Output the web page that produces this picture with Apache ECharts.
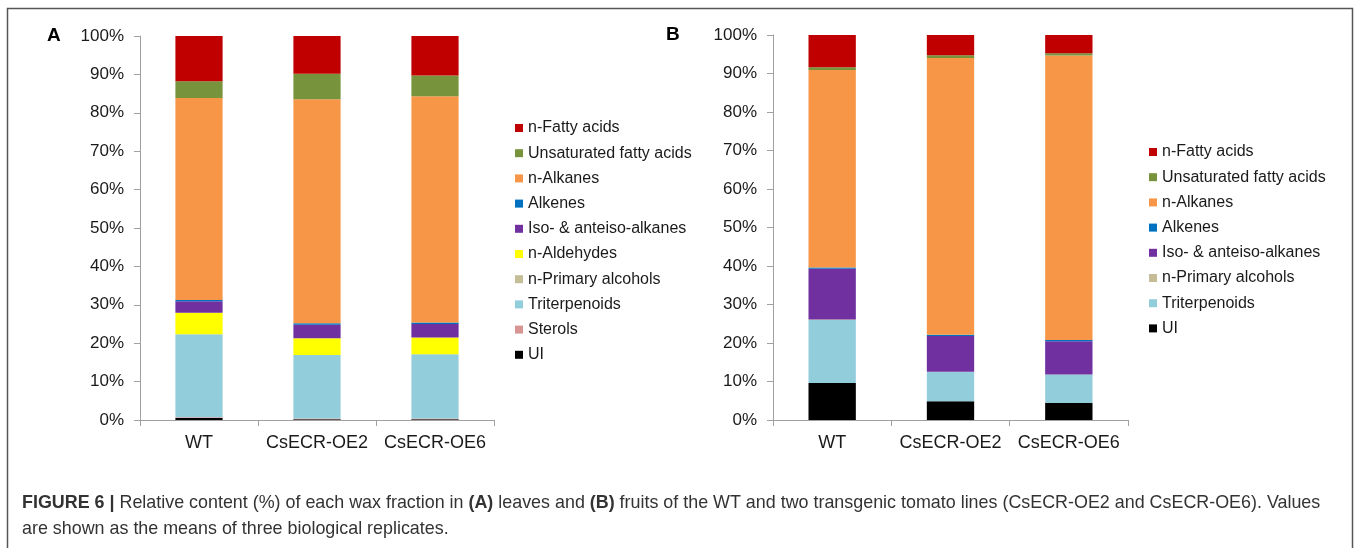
<!DOCTYPE html>
<html>
<head>
<meta charset="utf-8">
<script src="https://cdn.jsdelivr.net/npm/echarts@6/dist/echarts.min.js"></script>
<style>
html,body{margin:0;padding:0;background:#fff;}
#chart{width:1358px;height:548px;}
</style>
</head>
<body>
<div id="chart"></div>
<script>
// ---- Data ----
const categories = ['WT', 'CsECR-OE2', 'CsECR-OE6'];
const yTickLabels = ['0%','10%','20%','30%','40%','50%','60%','70%','80%','90%','100%'];

// Panel A: leaves (% of total wax), bottom-to-top stacking order
const leafUI            = [0.5, 0.2, 0.2];
const leafSterols       = [0.2, 0.2, 0.2];
const leafTriterpenoids = [21.6, 16.5, 16.7];
const leafPrimAlcohols  = [0.05, 0.0, 0.0];
const leafAldehydes     = [5.6, 4.4, 4.4];
const leafIsoAlkanes    = [3.0, 3.5, 3.5];
const leafAlkenes       = [0.3, 0.4, 0.4];
const leafAlkanes       = [52.6, 58.3, 58.9];
const leafUnsatFA       = [4.35, 6.7, 5.4];
const leafFattyAcids    = [11.8, 9.8, 10.3];

// Panel B: fruits
const fruitUI            = [9.6, 4.9, 4.4];
const fruitTriterpenoids = [16.4, 7.6, 7.4];
const fruitPrimAlcohols  = [0.1, 0.05, 0.05];
const fruitIsoAlkanes    = [13.2, 9.3, 8.6];
const fruitAlkenes       = [0.3, 0.3, 0.3];
const fruitAlkanes       = [51.3, 71.9, 73.9];
const fruitUnsatFA       = [0.7, 0.7, 0.6];
const fruitFattyAcids    = [8.4, 5.3, 4.8];

const legendA = ['n-Fatty acids','Unsaturated fatty acids','n-Alkanes','Alkenes','Iso- & anteiso-alkanes','n-Aldehydes','n-Primary alcohols','Triterpenoids','Sterols','UI'];
const legendB = ['n-Fatty acids','Unsaturated fatty acids','n-Alkanes','Alkenes','Iso- & anteiso-alkanes','n-Primary alcohols','Triterpenoids','UI'];

const colors = {
  'n-Fatty acids':'#C00000',
  'Unsaturated fatty acids':'#77933C',
  'n-Alkanes':'#F79646',
  'Alkenes':'#0070C0',
  'Iso- & anteiso-alkanes':'#7030A0',
  'n-Aldehydes':'#FFFF00',
  'n-Primary alcohols':'#C4BD97',
  'Triterpenoids':'#92CDDC',
  'Sterols':'#D99594',
  'UI':'#000000'
};

const seriesA = [
  ['UI', leafUI], ['Sterols', leafSterols], ['Triterpenoids', leafTriterpenoids],
  ['n-Primary alcohols', leafPrimAlcohols], ['n-Aldehydes', leafAldehydes],
  ['Iso- & anteiso-alkanes', leafIsoAlkanes], ['Alkenes', leafAlkenes],
  ['n-Alkanes', leafAlkanes], ['Unsaturated fatty acids', leafUnsatFA],
  ['n-Fatty acids', leafFattyAcids]
];
const seriesB = [
  ['UI', fruitUI], ['Triterpenoids', fruitTriterpenoids],
  ['n-Primary alcohols', fruitPrimAlcohols], ['Iso- & anteiso-alkanes', fruitIsoAlkanes],
  ['Alkenes', fruitAlkenes], ['n-Alkanes', fruitAlkanes],
  ['Unsaturated fatty acids', fruitUnsatFA], ['n-Fatty acids', fruitFattyAcids]
];

const FONT = '"Liberation Sans", Arial, sans-serif';
const TXT = '#1a1a1a';
const AX = '#a0a0a0';

function mkX(gi){
  return {
    type:'category', gridIndex:gi, data:categories,
    axisLine:{lineStyle:{color:AX,width:1}},
    axisTick:{show:true,length:6,lineStyle:{color:AX}},
    axisLabel:{color:TXT,fontFamily:FONT,fontSize:18,margin:14,interval:0,hideOverlap:false}
  };
}
function mkY(gi){
  return {
    type:'value', gridIndex:gi, min:0, max:100, interval:10,
    axisLine:{show:true,lineStyle:{color:AX,width:1}},
    axisTick:{show:true,length:6,lineStyle:{color:AX}},
    splitLine:{show:false},
    axisLabel:{color:TXT,fontFamily:FONT,fontSize:17,margin:16,
      formatter:function(v){return yTickLabels[Math.round(v/10)];}}
  };
}

const series = [];
seriesA.forEach(function(s){
  series.push({name:s[0],type:'bar',stack:'A',xAxisIndex:0,yAxisIndex:0,barWidth:'40%',
    itemStyle:{color:colors[s[0]]},data:s[1],emphasis:{disabled:true}});
});
seriesB.forEach(function(s){
  series.push({name:s[0],type:'bar',stack:'B',xAxisIndex:1,yAxisIndex:1,barWidth:'40%',
    itemStyle:{color:colors[s[0]]},data:s[1],emphasis:{disabled:true}});
});

const legendCommon = {
  orient:'vertical', icon:'rect', itemWidth:8, itemHeight:8, itemGap:9.2, padding:0,
  textStyle:{color:TXT,fontFamily:FONT,fontSize:16,lineHeight:16},
  selectedMode:false
};

const chart = echarts.init(document.getElementById('chart'), null, {renderer:'canvas'});
chart.setOption({
  animation:false,
  backgroundColor:'#ffffff',
  grid:[
    {left:140, top:36, width:354, height:384},
    {left:773, top:35, width:355, height:385}
  ],
  xAxis:[mkX(0), mkX(1)],
  yAxis:[mkY(0), mkY(1)],
  legend:[
    Object.assign({data:legendA, left:515, top:120}, legendCommon),
    Object.assign({data:legendB, left:1149, top:144}, legendCommon)
  ],
  title:{
    text:'{b|FIGURE 6 |} Relative content (%) of each wax fraction in {b|(A)} leaves and {b|(B)} fruits of the WT and two transgenic tomato lines (CsECR-OE2 and CsECR-OE6). Values\nare shown as the means of three biological replicates.',
    left:17, top:485,
    textStyle:{
      fontFamily:FONT, fontSize:17.9, fontWeight:'normal', color:'#333333', lineHeight:26,
      rich:{b:{fontFamily:FONT,fontSize:17.9,fontWeight:'bold',color:'#333333',lineHeight:26}}
    }
  },
  graphic:[
    {type:'rect', shape:{x:7.5,y:8.5,width:1345,height:560}, style:{fill:'none',stroke:'#555555',lineWidth:1.5}, silent:true},
    {type:'text', left:47, top:26, style:{text:'A',fontFamily:FONT,fontSize:19,fontWeight:'bold',fill:'#000'}},
    {type:'text', left:666, top:25, style:{text:'B',fontFamily:FONT,fontSize:19,fontWeight:'bold',fill:'#000'}}
  ],
  series:series
});
</script>
</body>
</html>
